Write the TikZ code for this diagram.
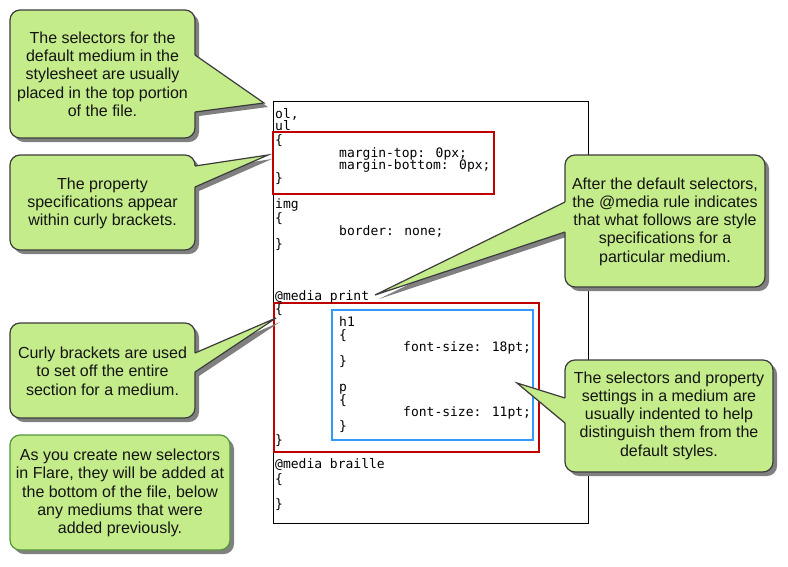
\documentclass[tikz,border=0pt]{standalone}
\usepackage{fontspec}
\setmainfont{Liberation Sans}
\newfontfamily\codefont{DejaVu Sans Mono}
\definecolor{bubblefillc}{RGB}{197,236,138}
\definecolor{bubbleedge}{RGB}{60,60,60}
\definecolor{bubblegreen}{RGB}{84,150,60}
\definecolor{shadowc}{RGB}{128,128,128}
\definecolor{redbox}{RGB}{192,0,0}
\definecolor{bluebox}{RGB}{51,153,255}
\tikzset{
  bubble/.style={fill=bubblefillc, draw=bubbleedge, line width=1.2pt, rounded corners=10pt},
  bubblegreenbox/.style={fill=bubblefillc, draw=bubblegreen, line width=1.2pt, rounded corners=10pt},
  bubblefill/.style={fill=bubblefillc},
  bubbleline/.style={draw=bubbleedge, line width=1.2pt, line join=miter},
  shadowbox/.style={fill=shadowc, rounded corners=10pt},
  shadowtri/.style={fill=shadowc},
  btext/.style={font=\fontsize{16}{18.3}\selectfont, align=center, text=black!92, inner sep=0pt},
  code/.style={font=\codefont\fontsize{13}{13}\selectfont, anchor=west, inner sep=0pt, text height=9pt, text depth=3pt},
  codebox/.style={draw=black, line width=1pt},
  redframe/.style={draw=redbox, line width=2pt},
  blueframe/.style={draw=bluebox, line width=2pt},
}
\begin{document}
\begin{tikzpicture}[x=1pt, y=-1pt]
\useasboundingbox (0,0) rectangle (788,566);
\fill[white] (0,0) rectangle (788,566);

% ---------- code listing ----------
\draw[codebox] (273,101) rectangle (588,523);
\draw[redframe] (273,132) rectangle (494,194);
\draw[redframe] (274,303) rectangle (539,452);
\draw[blueframe] (332,310) rectangle (533,440);

\node[code] (c1) at (275,115) {ol,};
\node[code] (c2) at (275,127) {ul};
\node[code] (c3) at (275,141) {\{};
\node[code] (c4) at (339,154) {margin-top: 0px;};
\node[code] (c5) at (339,166) {margin-bottom: 0px;};
\node[code] (c6) at (275,179) {\}};
\node[code] (c7) at (275,205) {img};
\node[code] (c8) at (275,219) {\{};
\node[code] (c9) at (339,232) {border: none;};
\node[code] (c10) at (275,245) {\}};
\node[code] (c11) at (275,297) {@media print};
\node[code] (c12) at (275,310) {\{};
\node[code] (c13) at (339,323) {h1};
\node[code] (c14) at (339,336) {\{};
\node[code] (c15) at (403,348) {font-size: 18pt;};
\node[code] (c16) at (339,362) {\}};
\node[code] (c17) at (339,388) {p};
\node[code] (c18) at (339,401) {\{};
\node[code] (c19) at (403,413) {font-size: 11pt;};
\node[code] (c20) at (339,427) {\}};
\node[code] (c21) at (275,441) {\}};
\node[code] (c22) at (275,465) {@media braille};
\node[code] (c23) at (275,480) {\{};
\node[code] (c24) at (275,505) {\}};

% ---------- shadows ----------
\begin{scope}[shift={(4,4)}]
  \fill[shadowbox] (10,10) rectangle (195,138);
  \fill[shadowtri] (195,55) -- (264,103) -- (195,112) -- cycle;
  \fill[shadowbox] (10,155) rectangle (195,250);
  \fill[shadowtri] (195,166) -- (268,155) -- (195,187) -- cycle;
  \fill[shadowbox] (10,323) rectangle (195,418);
  \fill[shadowtri] (195,353) -- (276,318) -- (195,372) -- cycle;
  \fill[shadowbox] (10,435) rectangle (230,550);
  \fill[shadowbox] (565,155) rectangle (765,287);
  \fill[shadowtri] (565,202) -- (375,295) -- (565,232) -- cycle;
  \fill[shadowbox] (565,360) rectangle (773,472);
  \fill[shadowtri] (565,398) -- (517,383) -- (565,423) -- cycle;
\end{scope}

% ---------- callout 1 ----------
\coordinate (p1) at (264,103);
\draw[bubble] (10,10) rectangle (195,138);
\fill[bubblefill] (193,55) -- (195,55) -- (p1) -- (195,112) -- (193,112) -- cycle;
\draw[bubbleline] (195,55) -- (p1) -- (195,112);
\node[btext] (t1) at (102.5,74) {The selectors for the\\default medium in the\\stylesheet are usually\\placed in the top portion\\of the file.};

% ---------- callout 2 ----------
\coordinate (p2) at (268,155);
\draw[bubble] (10,155) rectangle (195,250);
\fill[bubblefill] (193,166) -- (195,166) -- (p2) -- (195,187) -- (193,187) -- cycle;
\draw[bubbleline] (195,166) -- (p2) -- (195,187);
\node[btext] (t2) at (102.5,203.5) {The property\\specifications appear\\within curly brackets.};

% ---------- callout 3 ----------
\coordinate (p3) at (276,318);
\draw[bubble] (10,323) rectangle (195,418);
\fill[bubblefill] (193,353) -- (195,353) -- (p3) -- (195,372) -- (193,372) -- cycle;
\draw[bubbleline] (195,353) -- (p3) -- (195,372);
\node[btext] (t3) at (102.5,371) {Curly brackets are used\\to set off the entire\\section for a medium.};

% ---------- callout 4 ----------
\draw[bubblegreenbox] (10,435) rectangle (230,550);
\node[btext] (t4) at (120,493) {As you create new selectors\\in Flare, they will be added at\\the bottom of the file, below\\any mediums that were\\added previously.};

% ---------- callout 5 ----------
\coordinate (p5) at (375,295);
\draw[bubble] (565,155) rectangle (765,287);
\fill[bubblefill] (567,202) -- (565,202) -- (p5) -- (565,232) -- (567,232) -- cycle;
\draw[bubbleline] (565,202) -- (p5) -- (565,232);
\node[btext] (t5) at (665,221.5) {After the default selectors,\\the @media rule indicates\\that what follows are style\\specifications for a\\particular medium.};

% ---------- callout 6 ----------
\coordinate (p6) at (517,383);
\draw[bubble] (565,360) rectangle (773,472);
\fill[bubblefill] (567,398) -- (565,398) -- (p6) -- (565,423) -- (567,423) -- cycle;
\draw[bubbleline] (565,398) -- (p6) -- (565,423);
\node[btext] (t6) at (669,415.5) {The selectors and property\\settings in a medium are\\usually indented to help\\distinguish them from the\\default styles.};
\end{tikzpicture}
\end{document}
